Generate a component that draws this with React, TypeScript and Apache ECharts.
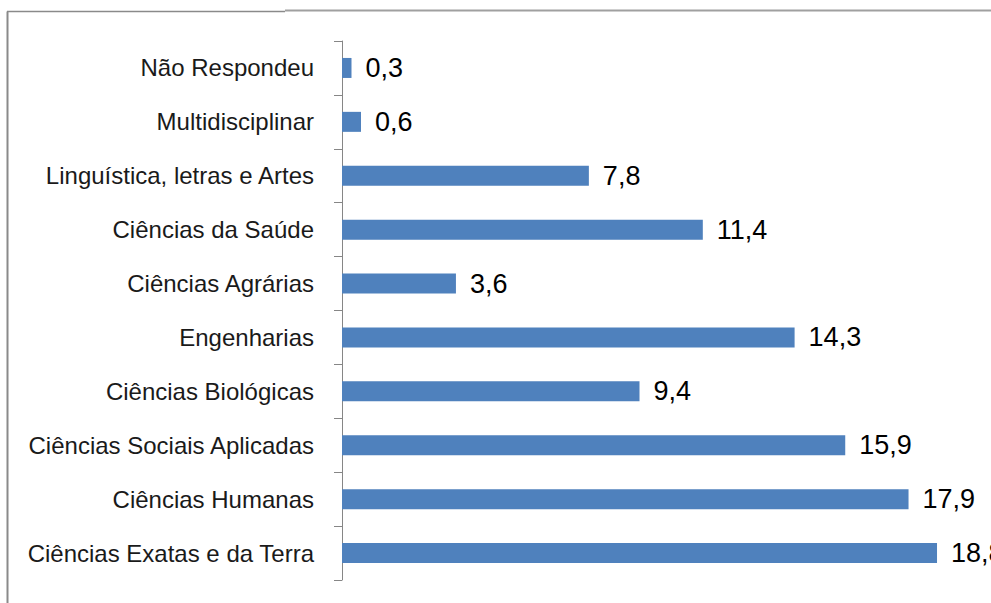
import React, { useEffect, useRef } from "react";
import * as echarts from "echarts";

const categories = [
  "Ciências Exatas e da Terra",
  "Ciências Humanas",
  "Ciências Sociais Aplicadas",
  "Ciências Biológicas",
  "Engenharias",
  "Ciências Agrárias",
  "Ciências da Saúde",
  "Linguística, letras e Artes",
  "Multidisciplinar",
  "Não Respondeu",
];
const values = [18.8, 17.9, 15.9, 9.4, 14.3, 3.6, 11.4, 7.8, 0.6, 0.3];

const FONT = "'Liberation Sans', Arial, sans-serif";

export default function App() {
  const ref = useRef<HTMLDivElement>(null);
  useEffect(() => {
    document.body.style.margin = "0";
    const chart = echarts.init(ref.current!, null, { renderer: "svg" });
    chart.setOption({
      animation: false,
      backgroundColor: "#ffffff",
      grid: { left: 342, top: 41, bottom: 23, width: 633 },
      xAxis: {
        type: "value",
        min: 0,
        max: 20,
        show: false,
      },
      yAxis: {
        type: "category",
        data: categories,
        axisLine: { show: true, lineStyle: { color: "#868686", width: 1 } },
        axisTick: { show: true, length: 8, lineStyle: { color: "#868686" } },
        axisLabel: {
          margin: 28,
          color: "#1a1a1a",
          fontSize: 24,
          fontFamily: FONT,
        },
        splitLine: { show: false },
      },
      series: [
        {
          type: "bar",
          data: values,
          barWidth: 20,
          itemStyle: { color: "#4F81BD" },
          label: {
            show: true,
            position: "right",
            distance: 14,
            color: "#000",
            fontSize: 27,
            fontFamily: FONT,
            formatter: (p: any) => String(p.value).replace(".", ","),
          },
        },
      ],
      graphic: [
        {
          type: "line",
          shape: { x1: 7.5, y1: 11.5, x2: 7.5, y2: 603 },
          style: { stroke: "#8a8a8a", lineWidth: 2 },
        },
        {
          type: "line",
          shape: { x1: 7, y1: 11.5, x2: 285, y2: 11.5 },
          style: { stroke: "#8a8a8a", lineWidth: 1.5 },
        },
        {
          type: "line",
          shape: { x1: 285, y1: 10.5, x2: 991, y2: 10.5 },
          style: { stroke: "#a0a0a0", lineWidth: 2 },
        },
      ],
    });
    return () => chart.dispose();
  }, []);
  return <div ref={ref} style={{ width: 991, height: 603 }} />;
}
